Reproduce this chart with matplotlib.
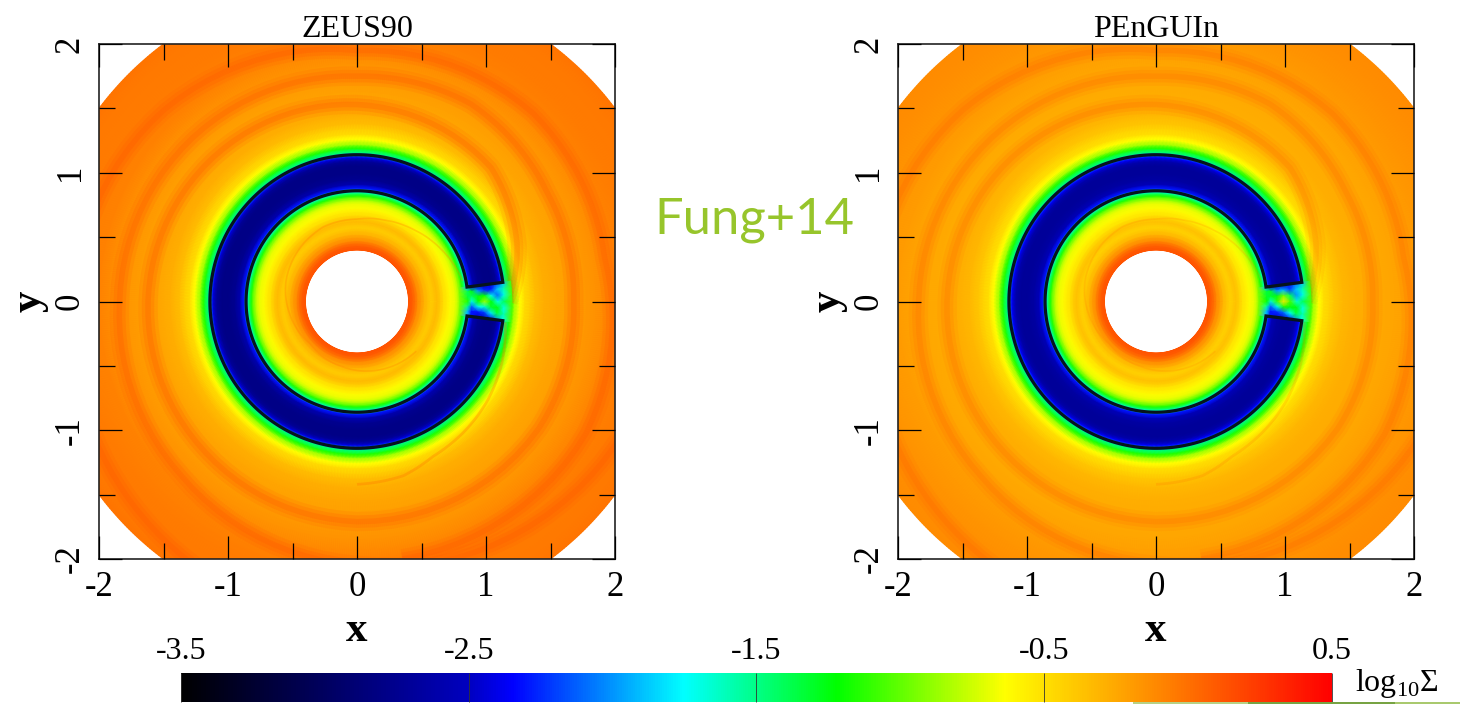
import numpy as np
from matplotlib import pyplot as plt
from matplotlib.colors import LinearSegmentedColormap, Normalize
from matplotlib.patches import Rectangle
from matplotlib.path import Path
from matplotlib.ticker import MultipleLocator

plt.rcParams['font.family'] = ['Liberation Serif', 'DejaVu Sans']
plt.rcParams['mathtext.fontset'] = 'custom'
plt.rcParams['mathtext.rm'] = 'Liberation Serif'

titles = ['ZEUS90', 'PEnGUIn']
cbar_ticks = [-3.5, -2.5, -1.5, -0.5, 0.5]
cbar_labels = ['-3.5', '-2.5', '-1.5', '-0.5', '0.5']

# log10 Sigma read along radius
radius = [0.40, 0.43, 0.47, 0.52, 0.57, 0.62, 0.67, 0.72, 0.76, 0.79, 0.82, 0.845,
          0.86, 0.88, 0.91, 0.95, 1.00, 1.05, 1.09, 1.12, 1.14, 1.16, 1.19, 1.22,
          1.26, 1.30, 1.38, 1.45, 1.55, 1.70, 1.85, 2.00, 2.20, 2.40, 2.50]
sigma_zeus = [0.12, 0.08, -0.12, -0.30, -0.42, -0.33, -0.50, -0.62, -0.68, -0.85, -1.15, -1.55,
              -1.90, -2.30, -2.60, -2.75, -2.80, -2.80, -2.70, -2.40, -1.90, -1.45, -1.15, -0.85,
              -0.64, -0.48, -0.34, -0.28, -0.24, -0.20, -0.15, -0.08, -0.05, -0.04, -0.02]
sigma_penguin = [0.12, 0.08, -0.12, -0.32, -0.44, -0.36, -0.52, -0.62, -0.68, -0.85, -1.15, -1.55,
                 -1.90, -2.30, -2.55, -2.65, -2.70, -2.70, -2.60, -2.35, -1.90, -1.45, -1.15, -0.85,
                 -0.64, -0.50, -0.38, -0.32, -0.28, -0.26, -0.24, -0.20, -0.16, -0.13, -0.12]

# wakes as angle (deg) and radius
arm_a_angle = [0, 20, 45, 90, 135, 180, 225, 270, 325, 360, 390, 420, 450, 495, 540, 585, 630, 680, 720]
arm_a_radius = [1.17, 1.32, 1.47, 1.53, 1.58, 1.62, 1.66, 1.71, 1.72, 1.68, 1.70, 1.77, 1.75, 1.80, 1.84, 1.92,
                2.05, 2.25, 2.40]
arm_b_angle = [-80, -30, 10, 47, 90, 135, 180, 215, 250]
arm_b_radius = [2.03, 2.05, 1.95, 2.00, 1.95, 2.11, 2.20, 2.32, 2.45]
planet_wake_angle = [-8, -23, -37, -51, -64, -75, -90]
planet_wake_radius = [1.16, 1.22, 1.27, 1.31, 1.34, 1.40, 1.42]
inner_angle = [11, 33, 52, 70, 90, 114, 142, 166, 191, 222, 258, 289, 320]
inner_radius = [0.835, 0.765, 0.71, 0.67, 0.64, 0.635, 0.60, 0.57, 0.53, 0.49, 0.52, 0.56, 0.60]

# gap around the planet, rows from +7.5 to -7.5 deg
planet_radius = [0.80, 0.86, 0.89, 0.94, 0.99, 1.04, 1.09, 1.14, 1.20]
planet_angle = [7.5, 5.0, 2.5, 0.0, -2.5, -5.0, -7.5]
planet_zeus = [
    [-0.95, -1.90, -2.30, -2.50, -2.50, -2.40, -2.20, -1.90, -1.05],
    [-0.95, -1.40, -1.25, -2.00, -2.25, -2.30, -1.90, -1.60, -1.05],
    [-0.95, -1.35, -1.40, -1.25, -1.20, -1.70, -2.10, -1.70, -1.05],
    [-0.95, -1.15, -1.70, -1.20, -0.85, -1.25, -1.70, -1.40, -1.05],
    [-0.95, -1.50, -2.10, -1.70, -1.65, -1.30, -1.25, -1.70, -1.05],
    [-0.95, -1.90, -2.30, -2.30, -2.20, -1.80, -1.35, -1.60, -1.05],
    [-0.95, -1.90, -2.30, -2.50, -2.50, -2.40, -2.00, -1.70, -1.05],
]
planet_penguin = [
    [-0.95, -1.90, -2.30, -2.45, -2.45, -2.30, -2.10, -1.90, -1.05],
    [-0.95, -1.35, -1.30, -2.00, -1.90, -2.20, -1.90, -1.60, -1.05],
    [-0.95, -1.30, -1.30, -1.25, -0.95, -1.40, -2.00, -1.70, -1.05],
    [-0.95, -1.20, -1.65, -1.10, -0.55, -1.05, -1.65, -1.40, -1.05],
    [-0.95, -1.55, -2.10, -1.70, -1.15, -1.25, -1.25, -1.70, -1.05],
    [-0.95, -1.90, -2.30, -2.25, -2.10, -1.75, -1.35, -1.60, -1.05],
    [-0.95, -1.90, -2.30, -2.45, -2.45, -2.30, -2.00, -1.70, -1.05],
]

jet_like = LinearSegmentedColormap.from_list('sigma', [
    (0.0, '#000000'), (0.25, '#0000c0'), (0.288, '#0000ff'), (0.437, '#00ffff'),
    (0.57, '#00ff00'), (0.716, '#ffff00'), (1.0, '#ff0000')], N=512)
norm = Normalize(-3.5, 0.5)

W, H = 1460, 704
fig = plt.figure(figsize=(W / 100, H / 100), dpi=100)


def add_box(left, top, right, bottom):
  return fig.add_axes([left / W, 1 - bottom / H, (right - left) / W, (bottom - top) / H])


def draw_arm(ax, angle, rad, color, alpha, lw):
  # steps in polar space so the wake bends like an arc
  pts = Path(np.column_stack([angle, rad])).interpolated(12).vertices
  t = np.radians(pts[:, 0])
  ax.plot(pts[:, 1] * np.cos(t), pts[:, 1] * np.sin(t), color=color, alpha=alpha, lw=lw,
          solid_capstyle='butt', zorder=2)


def draw_panel(ax, title, sigma, planet, arm_alpha):
  t = np.radians(np.linspace(0, 360, 721))
  r_grid, t_grid = np.meshgrid(radius, t)
  mesh = ax.pcolormesh(r_grid * np.cos(t_grid), r_grid * np.sin(t_grid),
                       np.tile(sigma, (len(t), 1)), cmap=jet_like, norm=norm,
                       shading='gouraud', zorder=1)

  for angle, rad in ((arm_a_angle, arm_a_radius), (arm_b_angle, arm_b_radius)):
    for lw, alpha in ((14, 0.12), (9, 0.18), (4, 0.22)):
      draw_arm(ax, angle, rad, '#ff5500', alpha * arm_alpha, lw)
  draw_arm(ax, planet_wake_angle, planet_wake_radius, '#ff7000', 0.3 * arm_alpha, 2)
  draw_arm(ax, inner_angle, inner_radius, '#ff8000', 0.3 * arm_alpha, 1.2)

  pr, pa = np.meshgrid(planet_radius, np.radians(planet_angle))
  ax.pcolormesh(pr * np.cos(pa), pr * np.sin(pa), np.array(planet), cmap=jet_like, norm=norm,
                shading='gouraud', zorder=3)

  # gap outline
  arc = np.radians(np.linspace(7.5, 352.5, 300))
  gx = np.concatenate([0.86 * np.cos(arc), 1.14 * np.cos(arc[::-1])])
  gy = np.concatenate([0.86 * np.sin(arc), 1.14 * np.sin(arc[::-1])])
  ax.fill(np.append(gx, gx[0]), np.append(gy, gy[0]), fill=False, ec='#06141c', lw=2.3, zorder=4)

  ax.set_xlim(-2, 2)
  ax.set_ylim(-2, 2)
  ax.set_axisbelow(False)
  ax.xaxis.set_major_locator(MultipleLocator(1))
  ax.yaxis.set_major_locator(MultipleLocator(1))
  ax.xaxis.set_minor_locator(MultipleLocator(0.5))
  ax.yaxis.set_minor_locator(MultipleLocator(0.5))
  ax.tick_params(which='major', direction='in', length=16.5, width=0.9, top=True, right=True,
                 labelsize=25, pad=9)
  ax.tick_params(which='minor', direction='in', length=11.5, width=0.9, top=True, right=True)
  ax.set_xticks([-2, -1, 0, 1, 2], ['-2', '-1', '0', '1', '2'])
  ax.set_yticks([-2, -1, 0, 1, 2], ['-2', '-1', '0', '1', '2'])
  for label in ax.get_yticklabels():
    label.set_rotation(90)
    label.set_va('center')
  for spine in ax.spines.values():
    spine.set_linewidth(1.2)
    spine.set_color('#222222')
  ax.set_title(title, fontsize=23, pad=3)
  ax.text(0.5, -0.14, 'x', fontsize=31, fontweight='bold', ha='center', va='center', transform=ax.transAxes)
  ax.text(-0.134, 0.5, 'y', fontsize=31, fontweight='bold', rotation=90, ha='center', va='center',
          transform=ax.transAxes)
  return mesh


ax_l = add_box(99, 44, 615, 559)
ax_r = add_box(898, 44, 1414, 559)
mesh = draw_panel(ax_l, titles[0], sigma_zeus, planet_zeus, 1.0)
draw_panel(ax_r, titles[1], sigma_penguin, planet_penguin, 0.65)

cax = add_box(181, 673, 1332, 702)
cb = fig.colorbar(mesh, cax=cax, orientation='horizontal')
cb.outline.set_visible(False)
cb.set_ticks(cbar_ticks, labels=cbar_labels)
cb.ax.xaxis.set_ticks_position('top')
cb.ax.tick_params(direction='in', length=21, width=0.6, color='#333333', labelsize=23, pad=5)
cb.ax.minorticks_off()

fig.text(1355 / W, 1 - 683 / H, r'$\mathrm{log}_{10}\Sigma$', fontsize=23, ha='left', va='center')
fig.text(754 / W, 1 - 220 / H, 'Fung+14', color='#97c52b', fontsize=36.5, family='Lato', ha='center', va='center')

# slide footer strip along the bottom edge
for x0, x1, col in ((1133, 1248, '#b7d184'), (1248, 1395, '#77a343'), (1395, 1460, '#a9c96e')):
  fig.add_artist(Rectangle((x0 / W, 0), (x1 - x0) / W, 2 / H, transform=fig.transFigure, fc=col, ec='none'))

fig.savefig('out.png', dpi=100)
